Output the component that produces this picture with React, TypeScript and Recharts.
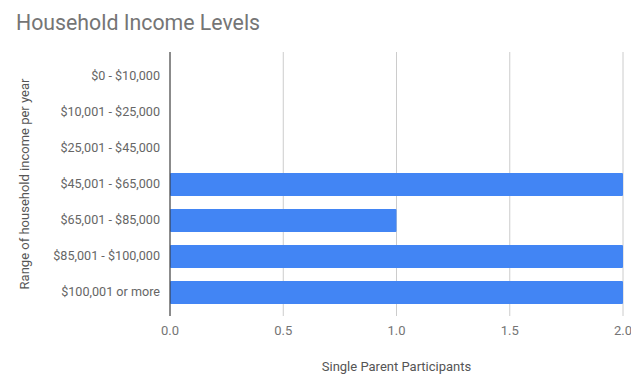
import { BarChart, Bar, XAxis, YAxis, CartesianGrid } from "recharts";

const incomeRanges = [
  "$0 - $10,000",
  "$10,001 - $25,000",
  "$25,001 - $45,000",
  "$45,001 - $65,000",
  "$65,001 - $85,000",
  "$85,001 - $100,000",
  "$100,001 or more",
];
const participants = [0, 0, 0, 2, 1, 2, 2];
const xTicks = [0, 0.5, 1, 1.5, 2];

const data = incomeRanges.map((range, i) => ({ range, value: participants[i] }));

const FONT = "Roboto, 'Noto Sans', sans-serif";

export default function App() {
  return (
    <div style={{ position: "relative", width: 639, height: 382, margin: -8, fontFamily: FONT, background: "#fff" }}>
      <div style={{ position: "absolute", left: 16, top: 10, fontSize: 21.3, color: "#757575" }}>
        Household Income Levels
      </div>
      <BarChart
        width={639}
        height={382}
        data={data}
        layout="vertical"
        margin={{ top: 52, right: 16, bottom: 0, left: 0 }}
      >
        <CartesianGrid horizontal={false} stroke="#cccccc" />
        <XAxis
          type="number"
          domain={[0, 2]}
          ticks={xTicks}
          tickFormatter={(v: number) => v.toFixed(1)}
          axisLine={false}
          tickLine={false}
          height={66}
          tick={{ fill: "#757575", fontSize: 13, fontFamily: FONT }}
          tickMargin={4}
          label={{
            value: "Single Parent Participants",
            position: "insideBottom",
            offset: 11,
            fill: "#555",
            fontSize: 13,
            fontFamily: FONT,
          }}
        />
        <YAxis
          type="category"
          dataKey="range"
          width={170}
          padding={{ top: 6, bottom: 6 }}
          axisLine={{ stroke: "#333333" }}
          tickLine={false}
          tickMargin={4}
          tick={{ fill: "#666", fontSize: 12.6, fontFamily: FONT }}
          label={{
            content: (props: any) => {
              const vb = props.viewBox;
              const cy = vb.y + vb.height / 2;
              return (
                <text
                  x={24}
                  y={cy}
                  transform={`rotate(-90 24 ${cy})`}
                  textAnchor="middle"
                  dominantBaseline="central"
                  fill="#555"
                  fontSize={13}
                  fontFamily={FONT}
                >
                  Range of household income per year
                </text>
              );
            },
          }}
        />
        <Bar dataKey="value" fill="#4285F4" barSize={23} radius={1} isAnimationActive={false} />
      </BarChart>
    </div>
  );
}
